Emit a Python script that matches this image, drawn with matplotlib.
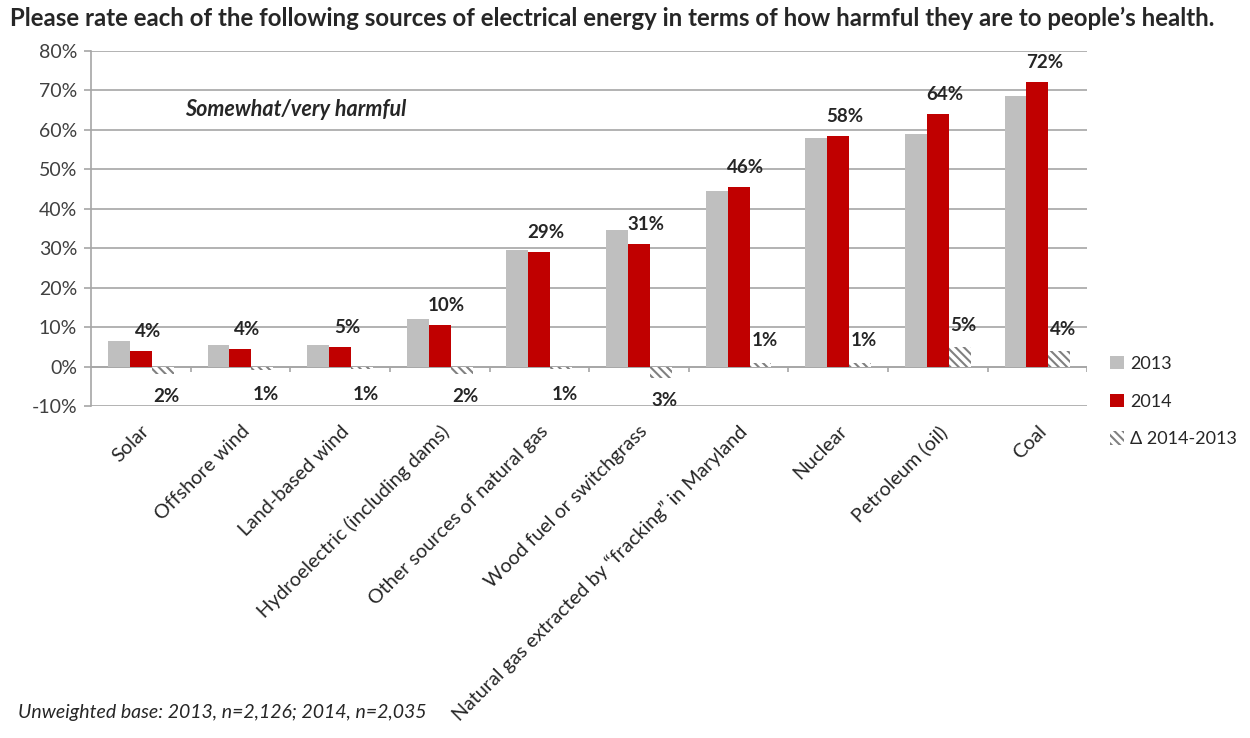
import matplotlib
matplotlib.use("Agg")
import matplotlib.pyplot as plt
import numpy as np
from matplotlib.patches import Patch

plt.rcParams['font.family'] = ['Lato', 'DejaVu Sans']
plt.rcParams['hatch.color'] = '#808080'
plt.rcParams['hatch.linewidth'] = 1.5

categories = ["Solar", "Offshore wind", "Land-based wind", "Hydroelectric (including dams)",
              "Other sources of natural gas", "Wood fuel or switchgrass",
              "Natural gas extracted by \u201cfracking\u201d in Maryland", "Nuclear",
              "Petroleum (oil)", "Coal"]
values_2013 = [6.5, 5.5, 5.5, 12, 29.5, 34.5, 44.5, 58, 59, 68.5]
values_2014 = [4, 4.5, 5, 10.5, 29, 31, 45.5, 58.5, 64, 72]
values_delta = [-2, -1, -0.6, -2, -0.6, -3, 1, 1, 5, 4]
labels_2014 = ["4%", "4%", "5%", "10%", "29%", "31%", "46%", "58%", "64%", "72%"]
labels_delta = ["2%", "1%", "1%", "2%", "1%", "3%", "1%", "1%", "5%", "4%"]
yticks = [-10, 0, 10, 20, 30, 40, 50, 60, 70, 80]

c13 = '#BFBFBF'
c14 = '#C00000'
txt = '#262626'

fig = plt.figure(figsize=(12.5, 7.38), dpi=100)
ax = fig.add_axes([0.0728, 0.4499, 0.797, 0.4811])

x = np.arange(len(categories))
w = 0.22
ax.bar(x - w, values_2013, w, color=c13, zorder=3)
ax.bar(x, values_2014, w, color=c14, zorder=3)
ax.bar(x + w, values_delta, w, color='white', hatch='\\\\\\\\', edgecolor='#808080',
       linewidth=0, zorder=3)

for xi, v, lab in zip(x, values_2014, labels_2014):
    ax.text(xi + 0.07, v + 5, lab, ha='center', va='center', fontsize=13.5,
            fontweight='bold', color=txt, zorder=5)
for xi, v, lab in zip(x, values_delta, labels_delta):
    yy = v - 5.5 if v < 0 else v + 5.5
    if v < 0:
        yy = min(yy, -7.2)
    ax.text(xi + w + 0.04, yy, lab, ha='center', va='center', fontsize=13.5,
            fontweight='bold', color=txt, zorder=5)

ax.set_xlim(-0.5, len(categories) - 0.5)
ax.set_ylim(-10, 80)
ax.set_yticks(yticks)
ax.set_yticklabels([f"{t}%" for t in yticks], fontsize=14, color='#404040')
ax.yaxis.grid(True, color='#A6A6A6', linewidth=1.2, zorder=0)
ax.set_axisbelow(True)
ax.tick_params(axis='y', length=5, color='#A6A6A6', width=1.2, pad=5)
for s in ['top', 'right', 'bottom']:
    ax.spines[s].set_visible(False)
ax.spines['left'].set_color('#A6A6A6')
ax.spines['left'].set_linewidth(1.2)

# category axis at zero with boundary tick marks
ax.axhline(0, color='#A6A6A6', linewidth=1.2, zorder=2)
bounds = np.arange(len(categories) + 1) - 0.5
ax.vlines(bounds[1:], -1.3, 0, color='#A6A6A6', linewidth=1.2, zorder=2)

ax.set_xticks(x)
ax.set_xticklabels(categories, rotation=45, ha='right', rotation_mode='anchor',
                   fontsize=14.2, color=txt)
ax.tick_params(axis='x', length=0, pad=12)

ax.text(0.094, 0.835, "Somewhat/very harmful", transform=ax.transAxes, fontsize=15.5,
        fontweight='bold', fontstyle='italic', color=txt, va='center')

fig.text(0.008, 0.975, "Please rate each of the following sources of electrical energy in terms of how harmful they are to people\u2019s health.",
         fontsize=17.3, fontweight='bold', color=txt, va='center', ha='left')
fig.text(0.014, 0.035, "Unweighted base: 2013, n=2,126; 2014, n=2,035",
         fontsize=14, fontstyle='italic', color=txt, va='center', ha='left')

handles = [Patch(facecolor=c13, label='2013'),
           Patch(facecolor=c14, label='2014'),
           Patch(facecolor='white', hatch='\\\\\\\\', edgecolor='#808080', linewidth=0,
                 label='\u0394 2014-2013')]
fig.legend(handles=handles, loc='upper left', bbox_to_anchor=(0.884, 0.525),
           frameon=False, fontsize=13, labelspacing=1.2, handlelength=0.75,
           handleheight=0.75, handletextpad=0.35, labelcolor=txt, borderaxespad=0,
           borderpad=0.3)

fig.savefig("out.png", dpi=100)
